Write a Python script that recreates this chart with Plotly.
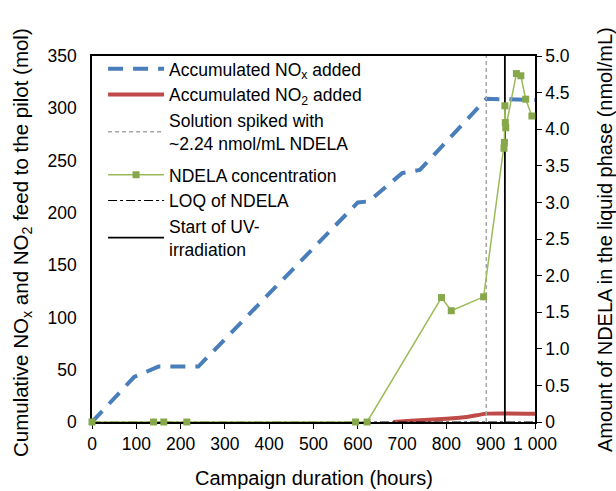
import plotly.graph_objects as go

# ---- data ----
nox_hours = [0, 95, 150, 240, 600, 625, 700, 740, 890, 1000]
nox_mol = [0, 43, 53, 53, 210, 211, 238, 241, 309, 308]

no2_hours = [680, 720, 800, 850, 890, 1000]
no2_mol = [0, 1.2, 3, 5, 8, 8]

ndela_hours = [0, 139, 162, 214, 595, 621, 789, 811, 884, 930, 931, 932, 933, 934, 958, 968, 979, 993]
ndela_conc = [0, 0, 0, 0, 0, 0, 1.70, 1.52, 1.71, 3.74, 3.82, 4.32, 4.09, 4.02, 4.76, 4.73, 4.41, 4.18]

spike_hour = 890
uv_start_hour = 932
loq_ndela = 0.0
x_range = [0, 1000]
y_left_range = [0, 350]
y_right_range = [0, 5]

x_ticks = [0, 100, 200, 300, 400, 500, 600, 700, 800, 900, 1000]
x_ticktext = ["0", "100", "200", "300", "400", "500", "600", "700", "800", "900", "1 000"]
y_left_ticks = [0, 50, 100, 150, 200, 250, 300, 350]
y_right_ticks = [0, 0.5, 1, 1.5, 2, 2.5, 3, 3.5, 4, 4.5, 5]
y_right_ticktext = ["0", "0.5", "1.0", "1.5", "2.0", "2.5", "3.0", "3.5", "4.0", "4.5", "5.0"]

FONT = "Liberation Sans, Arial, Helvetica, sans-serif"

fig = go.Figure()

fig.add_trace(go.Scatter(
    x=nox_hours, y=nox_mol, mode="lines", name="Accumulated NO<sub>x</sub> added",
    line=dict(color="#4a7ebb", width=4, dash="15px,10px"),
    legendgroup="a", legendrank=1))
fig.add_trace(go.Scatter(
    x=no2_hours, y=no2_mol, mode="lines", name="Accumulated NO<sub>2</sub> added",
    line=dict(color="#be4b48", width=4, shape="spline", smoothing=0.4),
    legendgroup="a", legendrank=2))
fig.add_trace(go.Scatter(
    x=[spike_hour, spike_hour], y=y_left_range, mode="lines",
    name="Solution spiked with<br>~2.24 nmol/mL NDELA",
    line=dict(color="#a6a6a6", width=1.5, dash="4px,3px"),
    legendgroup="a", legendrank=3))
fig.add_trace(go.Scatter(
    x=x_range, y=[loq_ndela, loq_ndela], mode="lines", name="LOQ of NDELA",
    line=dict(color="black", width=1.2, dash="dashdot"), yaxis="y2",
    legendgroup="b", legendrank=5))
fig.add_trace(go.Scatter(
    x=[uv_start_hour, uv_start_hour], y=y_left_range, mode="lines",
    name="Start of UV-<br>irradiation",
    line=dict(color="black", width=1.8),
    legendgroup="b", legendrank=6))
fig.add_trace(go.Scatter(
    x=ndela_hours, y=ndela_conc, mode="lines+markers", name="NDELA concentration",
    line=dict(color="#9bbb59", width=1.5),
    marker=dict(symbol="square", size=7, color="#86a84a"),
    yaxis="y2", cliponaxis=False,
    legendgroup="b", legendrank=4))

fig.update_layout(
    width=616, height=491,
    margin=dict(l=92, r=81, t=56, b=69, pad=0),
    paper_bgcolor="white", plot_bgcolor="white",
    font=dict(family=FONT, size=17.5, color="black"),
    showlegend=True,
    legend=dict(
        x=0.025, y=1.014, xanchor="left", yanchor="top",
        bgcolor="rgba(0,0,0,0)", font=dict(size=17.5, family=FONT),
        traceorder="grouped", tracegroupgap=6, itemwidth=56,
    ),
    xaxis=dict(
        range=x_range, tickvals=x_ticks, ticktext=x_ticktext,
        showline=True, linecolor="black", linewidth=1.5, mirror=True,
        ticks="outside", ticklen=5, tickcolor="black", tickwidth=1.2,
        showgrid=False, zeroline=False, layer="below traces",
        tickfont=dict(size=17.5),
    ),
    yaxis=dict(
        range=y_left_range, tickvals=y_left_ticks,
        showline=True, linecolor="black", linewidth=1.5,
        ticks="", showgrid=False, zeroline=False, layer="below traces",
        ticklabelstandoff=10, tickfont=dict(size=17.5),
    ),
    yaxis2=dict(
        range=y_right_range, tickvals=y_right_ticks, ticktext=y_right_ticktext,
        overlaying="y", side="right",
        showline=True, linecolor="black", linewidth=1.5,
        ticks="outside", ticklen=5, tickcolor="black", tickwidth=1.2,
        showgrid=False, zeroline=False, layer="below traces",
        tickfont=dict(size=17.5),
    ),
    annotations=[
        dict(text="Campaign duration (hours)", xref="paper", yref="paper",
             x=0.5, y=-0.154, xanchor="center", yanchor="middle",
             showarrow=False, font=dict(size=20, family=FONT)),
        dict(text="Cumulative NO<sub>x</sub> and NO<sub>2</sub> feed to the pilot (mol)",
             xref="paper", yref="paper", x=-0.158, y=0.489, textangle=-90,
             xanchor="center", yanchor="middle",
             showarrow=False, font=dict(size=20.5, family=FONT)),
        dict(text="Amount of NDELA in the liquid phase (nmol/mL)",
             xref="paper", yref="paper", x=1.158, y=0.5, textangle=-90,
             xanchor="center", yanchor="middle",
             showarrow=False, font=dict(size=20, family=FONT)),
    ],
)

fig.write_html("out.html")
